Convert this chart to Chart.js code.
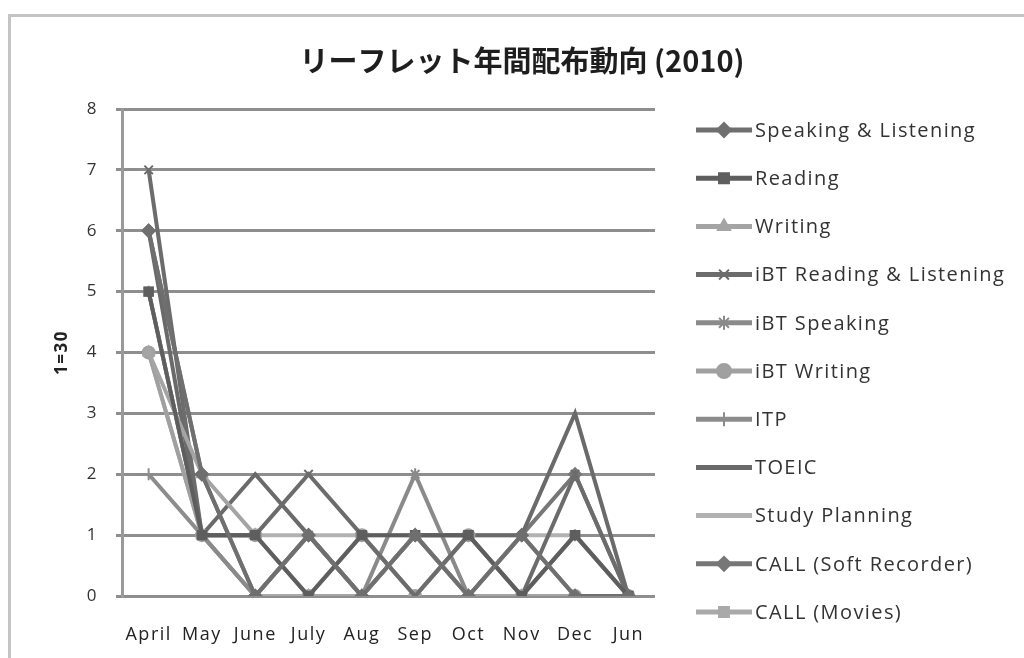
<!DOCTYPE html>
<html>
<head>
<meta charset="utf-8">
<script src="https://cdn.jsdelivr.net/npm/chart.js@4.4.1/dist/chart.umd.min.js"></script>
<style>
  html, body { margin: 0; padding: 0; background: #fff; overflow: hidden; }
  #wrap { position: relative; width: 1024px; height: 658px; }
  #frame { position: absolute; left: 8px; top: 14px; width: 1030px; height: 660px; border: 3px solid #c4c4c4; box-sizing: border-box; }
  canvas { position: absolute; left: 0; top: 0; }
</style>
</head>
<body>
<div id="wrap">
  <div id="frame"></div>
  <canvas id="chart" width="1024" height="658"></canvas>
</div>
<script>
const months = ["April", "May", "June", "July", "Aug", "Sep", "Oct", "Nov", "Dec", "Jun"];

const seriesNames = [
  "Speaking & Listening", "Reading", "Writing", "iBT Reading & Listening",
  "iBT Speaking", "iBT Writing", "ITP", "TOEIC", "Study Planning",
  "CALL (Soft Recorder)", "CALL (Movies)"
];

const speakingListening = [6, 2, 0, 1, 0, 1, 0, 1, 0, 0];
const reading = [5, 1, 1, 0, 1, 1, 1, 0, 1, 0];
const writing = [4, 2, 1, 0, 0, 1, 0, 0, 0, 0];
const ibtReadingListening = [7, 1, 1, 2, 1, 0, 1, 0, 2, 0];
const ibtSpeaking = [5, 1, 0, 1, 0, 2, 0, 0, 1, 0];
const ibtWriting = [4, 1, 1, 0, 1, 0, 1, 0, 0, 0];
const itp = [2, 1, 0, 1, 0, 1, 0, 1, 0, 0];
const toeic = [6, 1, 2, 1, 0, 1, 1, 1, 3, 0];
const studyPlanning = [4, 1, 1, 1, 1, 1, 1, 1, 1, 0];
const callSoftRecorder = [6, 2, 0, 1, 0, 1, 0, 1, 2, 0];
const callMovies = [5, 1, 0, 0, 1, 0, 1, 0, 1, 0];

const yTicks = [0, 1, 2, 3, 4, 5, 6, 7, 8];
const chartTitle = "リーフレット年間配布動向 (2010)";

const allValues = [speakingListening, reading, writing, ibtReadingListening, ibtSpeaking,
  ibtWriting, itp, toeic, studyPlanning, callSoftRecorder, callMovies];
const colors = ["#6f6f6f", "#5e5e5e", "#a4a4a4", "#6c6c6c", "#8a8a8a",
  "#a0a0a0", "#8c8c8c", "#6a6a6a", "#b2b2b2", "#777777", "#a9a9a9"];
const markers = ["rectRot", "rect", "triangle", "crossRot", "star",
  "circle", "cross", false, false, "rectRot", "rect"];

const datasets = seriesNames.map((name, i) => ({
  label: name,
  data: allValues[i],
  borderColor: colors[i],
  backgroundColor: colors[i],
  borderWidth: 4,
  pointStyle: markers[i],
  pointRadius: markers[i] ? 6 : 0,
  pointBorderWidth: 2,
  tension: 0,
  fill: false
}));

// the picture is stretched sideways, so text gets some letter spacing
const spacing = {
  id: "spacing",
  beforeDraw(chart) { chart.ctx.letterSpacing = "1.5px"; }
};

// title centred on the whole frame, legend drawn as line + marker
const extras = {
  id: "extras",
  afterDraw(chart) {
    const ctx = chart.ctx;
    ctx.save();
    ctx.letterSpacing = "0px";
    ctx.fillStyle = "#1e1e1e";
    ctx.font = "bold 29px 'Noto Sans CJK JP', sans-serif";
    ctx.textAlign = "center";
    ctx.textBaseline = "middle";
    ctx.fillText(chartTitle, 522, 61);

    const x0 = 696, x1 = 752, top = 130, step = 48.2;
    ctx.textAlign = "left";
    chart.data.datasets.forEach((ds, i) => {
      const y = top + i * step;
      ctx.strokeStyle = ds.borderColor;
      ctx.lineWidth = 5;
      ctx.beginPath();
      ctx.moveTo(x0, y);
      ctx.lineTo(x1, y);
      ctx.stroke();
      if (ds.pointStyle) {
        ctx.fillStyle = ds.backgroundColor;
        ctx.strokeStyle = ds.borderColor;
        ctx.lineWidth = 2;
        Chart.helpers.drawPoint(ctx, { pointStyle: ds.pointStyle, radius: 7, borderWidth: 2 }, (x0 + x1) / 2, y);
      }
      ctx.fillStyle = "#333";
      ctx.letterSpacing = "1.4px";
      ctx.font = "20px 'Open Sans', sans-serif";
      ctx.fillText(ds.label, x1 + 3, y + 1);
      ctx.letterSpacing = "0px";
    });
    ctx.restore();
  }
};

new Chart(document.getElementById("chart"), {
  type: "line",
  data: { labels: months, datasets: datasets },
  plugins: [spacing, extras],
  options: {
    responsive: false,
    animation: false,
    layout: { padding: { left: 48, right: 369, top: 109, bottom: 10 } },
    plugins: {
      legend: { display: false },
      tooltip: { enabled: false },
      title: { display: false }
    },
    scales: {
      x: {
        offset: true,
        grid: { display: false },
        border: { display: false },
        ticks: { color: "#222", padding: 20, maxRotation: 0, autoSkip: false,
          font: { family: "'Open Sans', sans-serif", size: 18 } },
        afterFit(scale) { scale.height = 52; }
      },
      y: {
        min: 0,
        max: 8,
        afterBuildTicks(scale) { scale.ticks = yTicks.map(v => ({ value: v })); },
        grid: { color: "#8e8e8e", lineWidth: 3, tickLength: 6, drawTicks: true },
        border: { display: true, color: "#9a9a9a", width: 3 },
        ticks: { color: "#333", padding: 18,
          font: { family: "'Open Sans', sans-serif", size: 17 } },
        title: { display: true, text: "1=30", color: "#222",
          font: { family: "'Open Sans', sans-serif", size: 17, weight: "bold" }, padding: 4 },
        afterFit(scale) { scale.width = 74; }
      }
    }
  }
});
</script>
</body>
</html>
